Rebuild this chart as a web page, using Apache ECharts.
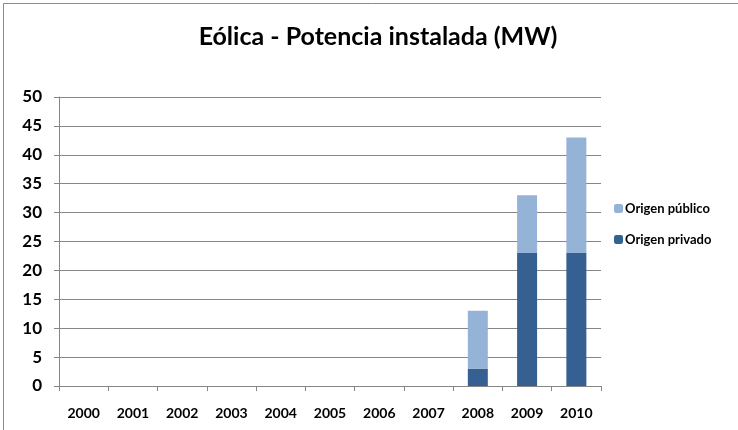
<!DOCTYPE html>
<html>
<head>
<meta charset="utf-8">
<script src="https://cdn.jsdelivr.net/npm/echarts@6/dist/echarts.min.js"></script>
<style>
  html, body { margin: 0; padding: 0; background: #fff; }
  #chart { width: 738px; height: 430px; }
</style>
</head>
<body>
<div id="chart"></div>
<script>
const years = ["2000", "2001", "2002", "2003", "2004", "2005", "2006", "2007", "2008", "2009", "2010"];
const privado = [0, 0, 0, 0, 0, 0, 0, 0, 3, 23, 23];
const publico = [0, 0, 0, 0, 0, 0, 0, 0, 10, 10, 20];

const font = "Lato, 'Open Sans', sans-serif";
var myChart = echarts.init(document.getElementById("chart"));
var option = {
  animation: false,
  graphic: [
    {
      type: "rect",
      shape: { x: 3.5, y: 3.5, width: 800, height: 500 },
      style: { fill: "none", stroke: "#8c8c8c", lineWidth: 1 },
      silent: true,
    },
  ],
  title: {
    text: "Eólica - Potencia instalada (MW)",
    left: 373,
    textAlign: "center",
    top: 19,
    textStyle: { fontFamily: font, fontWeight: "bold", fontSize: 25, color: "#000" },
  },
  legend: {
    orient: "vertical",
    left: 609,
    top: 197,
    itemWidth: 9,
    itemHeight: 9,
    itemGap: 18,
    data: ["Origen público", "Origen privado"],
    textStyle: { fontFamily: font, fontWeight: "bold", fontSize: 13, color: "#000", padding: [0, 0, 0, -3] },
  },
  color: ["#366092", "#95b3d7"],
  grid: { left: 59, top: 97, width: 542, height: 289 },
  xAxis: {
    type: "category",
    data: years,
    axisLine: { lineStyle: { color: "#868686" } },
    axisTick: { show: true, length: 5, lineStyle: { color: "#868686" } },
    axisLabel: { margin: 20, fontFamily: font, fontWeight: "bold", fontSize: 14, color: "#000" },
  },
  yAxis: {
    type: "value",
    min: 0,
    max: 50,
    interval: 5,
    axisLine: { show: true, lineStyle: { color: "#868686" } },
    axisTick: { show: true, length: 5, lineStyle: { color: "#868686" } },
    splitLine: { lineStyle: { color: "#868686" } },
    axisLabel: { margin: 17, fontFamily: font, fontWeight: "bold", fontSize: 17, color: "#000" },
  },
  series: [
    { name: "Origen privado", type: "bar", stack: "t", barWidth: 20, data: privado },
    { name: "Origen público", type: "bar", stack: "t", barWidth: 20, data: publico },
  ],
};
option && myChart.setOption(option);
</script>
</body>
</html>
